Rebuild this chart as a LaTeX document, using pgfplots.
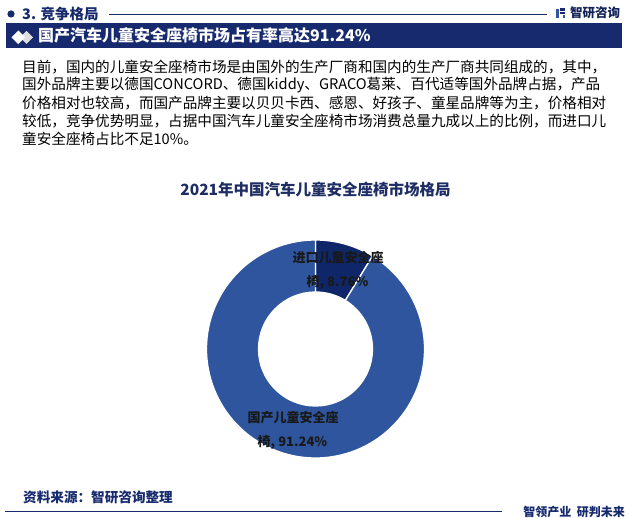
\documentclass[border=0pt]{standalone}
\usepackage{pgfplots}
\pgfplotsset{compat=1.18}
\usepackage{pgfplotstable}
\usepackage{fontspec}
\setmainfont{Noto Sans CJK SC}
\definecolor{navy}{RGB}{23,42,110}
\definecolor{mainslice}{RGB}{46,85,158}
\definecolor{darkslice}{RGB}{15,38,105}
\definecolor{titlec}{RGB}{30,45,100}

\pgfplotstableread{
slice value
import 8.76
domestic 91.24
}\donutdata

\begin{document}
\begin{tikzpicture}[x=1pt,y=1pt]
\useasboundingbox (0,0) rectangle (628,518);
\fill[white] (0,0) rectangle (628,518);

\pgfplotstablegetelem{0}{value}\of\donutdata
\let\vImport\pgfplotsretval
\pgfplotstablegetelem{1}{value}\of\donutdata
\let\vDomestic\pgfplotsretval
\pgfmathsetmacro\angB{90-3.6*\vImport}
\pgfmathsetmacro\angEnd{\angB-3.6*\vDomestic}

% header
\fill[navy] (11,504) circle (3.6);
\node[anchor=west,inner sep=0,text=navy] at (22,504) {\fontsize{14.5pt}{16pt}\selectfont\bfseries 3. 竞争格局};
\draw[navy,line width=0.9pt] (109,504) -- (547,504);
% logo
\fill[mainslice] (556,500) rectangle (558.5,509);
\fill[navy] (559.5,507) rectangle (565,510);
\fill[navy] (559.5,503.5) rectangle (565,505.5);
\fill[mainslice] (562.5,500) rectangle (565,503);
\node[anchor=west,inner sep=0,text=navy!80!black] at (570,505) {\fontsize{12.5pt}{14pt}\selectfont\bfseries 智研咨询};

% banner
\fill[navy] (6,470) rectangle (622,495);
\fill[gray!25] (20,480.7) -- (26.5,487.2) -- (33,480.7) -- (26.5,474.2) -- cycle;
\fill[white] (11.5,480.7) -- (18.3,487.5) -- (25.1,480.7) -- (18.3,473.9) -- cycle;
\node[anchor=west,inner sep=0,text=white] at (38,482.5) {\fontsize{16pt}{18pt}\selectfont\bfseries 国产汽车儿童安全座椅市场占有率高达91.24\%};

% paragraph
\begin{scope}[every node/.style={anchor=west,inner sep=0,text=black}]
\node at (22,450.5) {\fontsize{14.6pt}{17pt}\selectfont 目前，国内的儿童安全座椅市场是由国外的生产厂商和国内的生产厂商共同组成的，其中，};
\node at (22,432.5) {\fontsize{14.6pt}{17pt}\selectfont 国外品牌主要以德国CONCORD、德国kiddy、GRACO葛莱、百代适等国外品牌占据，产品};
\node at (22,415) {\fontsize{14.6pt}{17pt}\selectfont 价格相对也较高，而国产品牌主要以贝贝卡西、感恩、好孩子、童星品牌等为主，价格相对};
\node at (22,397) {\fontsize{14.6pt}{17pt}\selectfont 较低，竞争优势明显，占据中国汽车儿童安全座椅市场消费总量九成以上的比例，而进口儿};
\node at (22,379.5) {\fontsize{14.6pt}{17pt}\selectfont 童安全座椅占比不足10\%。};
\end{scope}

% chart title
\node[inner sep=0,text=titlec] at (315.5,328) {\fontsize{15.5pt}{17pt}\selectfont\bfseries 2021年中国汽车儿童安全座椅市场格局};

% donut
\begin{axis}[at={(315.5,169)},anchor=center,hide axis,x=1pt,y=1pt,
  xmin=-120,xmax=120,ymin=-120,ymax=120,clip=false]
\addplot[draw=none,forget plot] coordinates {(0,0)};
\fill[darkslice,draw=white,line width=1.3pt] (axis cs:0,0) ++(90:109pt)
  arc[start angle=90,end angle=\angB,radius=109pt] -- ++(\angB:-52pt)
  arc[start angle=\angB,end angle=90,radius=57pt] -- cycle;
\fill[mainslice,draw=white,line width=1.3pt] (axis cs:0,0) ++(\angB:109pt)
  arc[start angle=\angB,end angle=\angEnd,radius=109pt] -- ++(\angEnd:-52pt)
  arc[start angle=\angEnd,end angle=\angB,radius=57pt] -- cycle;
\end{axis}

% labels
\begin{scope}[every node/.style={inner sep=0,text=black!90}]
\node at (338,260) {\fontsize{13pt}{15pt}\selectfont\bfseries 进口儿童安全座};
\node at (337.5,236) {\fontsize{13pt}{15pt}\selectfont\bfseries 椅, 8.76\%};
\node at (293,100) {\fontsize{13pt}{15pt}\selectfont\bfseries 国产儿童安全座};
\node at (292.5,76) {\fontsize{13pt}{15pt}\selectfont\bfseries 椅, 91.24\%};
\end{scope}

% footer
\node[anchor=west,inner sep=0,text=navy] at (23,21) {\fontsize{13.6pt}{15pt}\selectfont\bfseries 资料来源：智研咨询整理};
\draw[navy,line width=1pt] (5,6) -- (502,6);
\node[anchor=east,inner sep=0,text=navy] at (625,6.5) {\fontsize{12pt}{14pt}\selectfont\bfseries 智领产业\ \ 研判未来};
\end{tikzpicture}
\end{document}
